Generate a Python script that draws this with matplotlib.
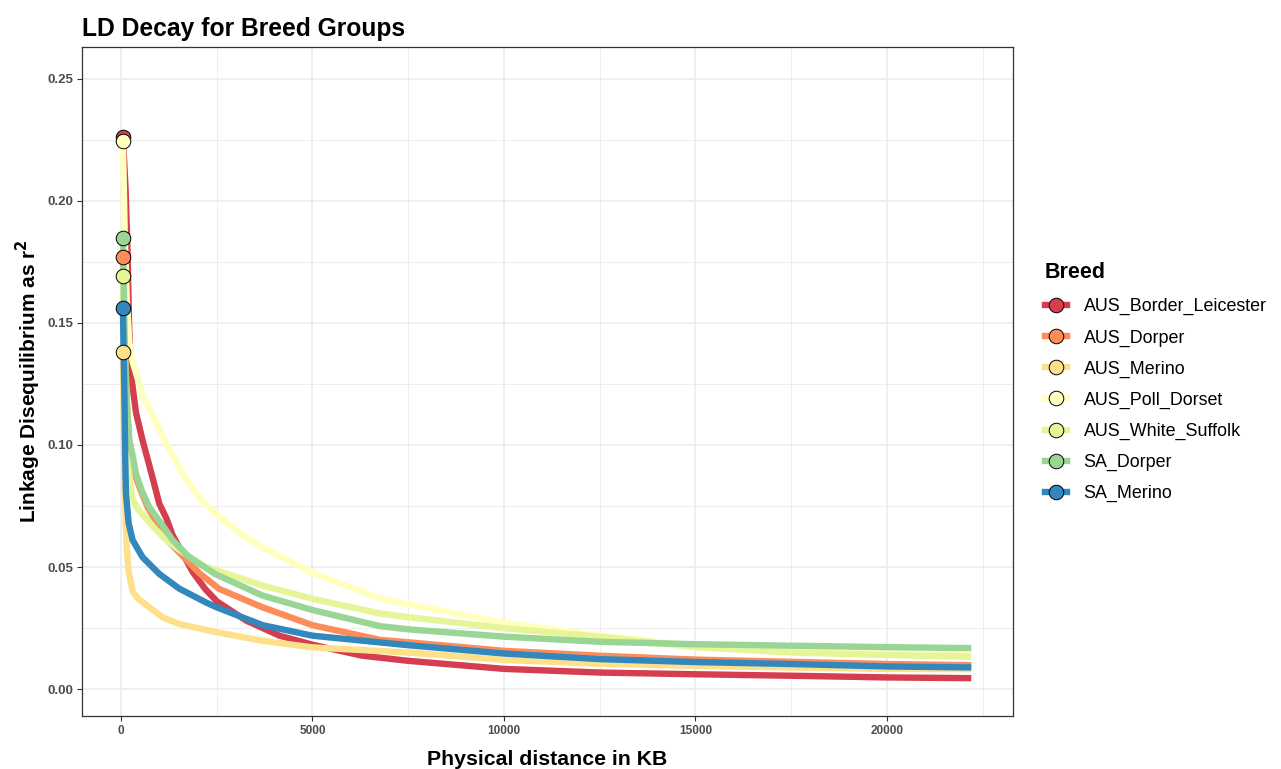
import matplotlib.pyplot as plt
from matplotlib.lines import Line2D
from matplotlib.ticker import MultipleLocator

plt.rcParams['font.family'] = ['Liberation Sans', 'DejaVu Sans']

# mean r^2 per breed along physical distance (kb)
breeds = ["AUS_Border_Leicester", "AUS_Dorper", "AUS_Merino", "AUS_Poll_Dorset",
          "AUS_White_Suffolk", "SA_Dorper", "SA_Merino"]
colors = ["#D53E4F", "#FC8D59", "#FEE08B", "#FFFFBF", "#E6F598", "#99D594", "#3288BD"]

kb_border_leicester = [50, 120, 170, 210, 261, 395, 566, 827, 1000, 1184, 1350, 1524, 1873, 2200,
                       2500, 3267, 4138, 5000, 6300, 7500, 10000, 12500, 15000, 17500, 20000, 22200]
r2_border_leicester = [0.226, 0.205, 0.180, 0.150, 0.129, 0.113, 0.1018, 0.0865, 0.0760, 0.0700,
                       0.0630, 0.0580, 0.0480, 0.0410, 0.0360, 0.0281, 0.0219, 0.0182, 0.0137,
                       0.0116, 0.0083, 0.0068, 0.0061, 0.0055, 0.0048, 0.0045]

kb_aus_dorper = [50, 100, 150, 200, 250, 348, 500, 697, 900, 1176, 1520, 2047, 2570, 3700, 5000,
                 6760, 7500, 10000, 12500, 15000, 17500, 20000, 22200]
r2_aus_dorper = [0.177, 0.140, 0.118, 0.104, 0.096, 0.0885, 0.082, 0.0745, 0.069, 0.0615, 0.0560,
                 0.0475, 0.0410, 0.0335, 0.0262, 0.0202, 0.0192, 0.0157, 0.0137, 0.0121, 0.0112,
                 0.0103, 0.0098]

kb_aus_merino = [50, 100, 150, 200, 305, 450, 700, 1090, 1520, 2500, 3700, 5000, 7500, 10000,
                 12500, 15000, 17500, 20000, 22200]
r2_aus_merino = [0.138, 0.080, 0.058, 0.048, 0.040, 0.037, 0.034, 0.0294, 0.0267, 0.0233, 0.0198,
                 0.0171, 0.0150, 0.0120, 0.0104, 0.0095, 0.0089, 0.0083, 0.0082]

kb_poll_dorset = [50, 100, 150, 218, 307, 479, 570, 833, 1200, 1611, 2061, 2500, 3100, 3700, 5000,
                  6760, 7500, 10000, 12500, 15000, 17500, 20000, 22200]
r2_poll_dorset = [0.2246, 0.185, 0.160, 0.142, 0.134, 0.125, 0.120, 0.112, 0.100, 0.0882, 0.0780,
                  0.0716, 0.0640, 0.0580, 0.0476, 0.0372, 0.0348, 0.0272, 0.0220, 0.0178, 0.0157,
                  0.0145, 0.0138]

kb_white_suffolk = [50, 100, 150, 200, 305, 450, 653, 900, 1176, 1524, 2220, 2500, 3700, 5000,
                    6760, 7500, 10000, 12500, 15000, 17500, 20000, 22200]
r2_white_suffolk = [0.1693, 0.120, 0.100, 0.090, 0.0775, 0.0735, 0.0700, 0.0655, 0.0612, 0.0570,
                    0.0500, 0.0486, 0.0424, 0.0370, 0.0310, 0.0295, 0.0250, 0.0215, 0.0172,
                    0.0150, 0.0140, 0.0133]

kb_sa_dorper = [50, 100, 150, 218, 300, 392, 550, 740, 1089, 1350, 1785, 2480, 3700, 5000, 6760,
                7500, 10000, 12500, 15000, 17500, 20000, 22200]
r2_sa_dorper = [0.1848, 0.140, 0.118, 0.102, 0.096, 0.0882, 0.081, 0.0745, 0.0670, 0.0610, 0.0540,
                0.0470, 0.0383, 0.0324, 0.0258, 0.0245, 0.0215, 0.0194, 0.0184, 0.0178, 0.0172,
                0.0168]

kb_sa_merino = [50, 90, 110, 130, 200, 305, 566, 1000, 1520, 2220, 2500, 3700, 5000, 7500, 10000,
                12500, 15000, 17500, 20000, 22200]
r2_sa_merino = [0.156, 0.120, 0.095, 0.080, 0.068, 0.061, 0.054, 0.0472, 0.0412, 0.0355, 0.0335,
                0.0262, 0.0219, 0.0180, 0.0146, 0.0123, 0.0111, 0.0103, 0.0093, 0.0089]

series = [(kb_border_leicester, r2_border_leicester), (kb_aus_dorper, r2_aus_dorper),
          (kb_aus_merino, r2_aus_merino), (kb_poll_dorset, r2_poll_dorset),
          (kb_white_suffolk, r2_white_suffolk), (kb_sa_dorper, r2_sa_dorper),
          (kb_sa_merino, r2_sa_merino)]

fig = plt.figure(figsize=(12.81, 7.69), dpi=100)
ax = fig.add_axes([0.064, 0.0689, 0.7268, 0.87])

for (kb, r2), c in zip(series, colors):
    ax.plot(kb, r2, color=c, lw=4.6, solid_capstyle='butt', solid_joinstyle='round', zorder=3)
for (kb, r2), c in zip(series, colors):
    ax.plot(kb[0], r2[0], 'o', ms=10.5, mfc=c, mec='black', mew=0.7, zorder=4)

ax.set_xlim(-1018, 23290)
ax.set_ylim(-0.011, 0.263)
ax.xaxis.set_major_locator(MultipleLocator(5000))
ax.xaxis.set_minor_locator(MultipleLocator(2500))
ax.yaxis.set_major_locator(MultipleLocator(0.05))
ax.yaxis.set_minor_locator(MultipleLocator(0.025))
ax.yaxis.set_major_formatter(lambda v, p: f"{v:.2f}")
ax.xaxis.set_major_formatter(lambda v, p: f"{v:.0f}")

ax.grid(which='major', color='#EBEBEB', lw=1.1, zorder=0)
ax.grid(which='minor', color='#EBEBEB', lw=0.6, zorder=0)
ax.set_axisbelow(True)
ax.tick_params(which='major', length=3.5, width=0.8, color='#333333',
               labelcolor='#4D4D4D', pad=3)
ax.tick_params(axis='x', labelsize=8.5)
ax.tick_params(axis='y', labelsize=9.5)
ax.tick_params(which='minor', length=0)
for lab in ax.get_xticklabels() + ax.get_yticklabels():
    lab.set_fontweight('bold')
for sp in ax.spines.values():
    sp.set_color('#333333')
    sp.set_linewidth(0.9)

ax.set_title("LD Decay for Breed Groups", loc='left', fontsize=17.7, fontweight='bold', pad=8)
ax.set_xlabel("Physical distance in KB", fontsize=15.3, fontweight='bold', labelpad=9)
ax.set_ylabel(r"Linkage Disequilibrium as r$^\mathbf{2}$", fontsize=15, fontweight='bold',
              labelpad=3)

handles = [Line2D([], [], color=c, lw=4.6, marker='o', ms=10.5, mfc=c, mec='black', mew=0.7)
           for c in colors]
leg = ax.legend(handles, breeds, title="Breed", loc='upper left',
                bbox_to_anchor=(1045 / 1281, 1 - 262 / 769), bbox_transform=fig.transFigure,
                frameon=False, fontsize=12.9, handlelength=1.2, handletextpad=0.95,
                labelspacing=0.78, borderaxespad=0, borderpad=0)
leg.get_title().set_fontweight('bold')
leg.get_title().set_fontsize(15.5)
leg._legend_box.align = "left"
leg._legend_box.sep = 11

fig.savefig("out.png", dpi=100)
